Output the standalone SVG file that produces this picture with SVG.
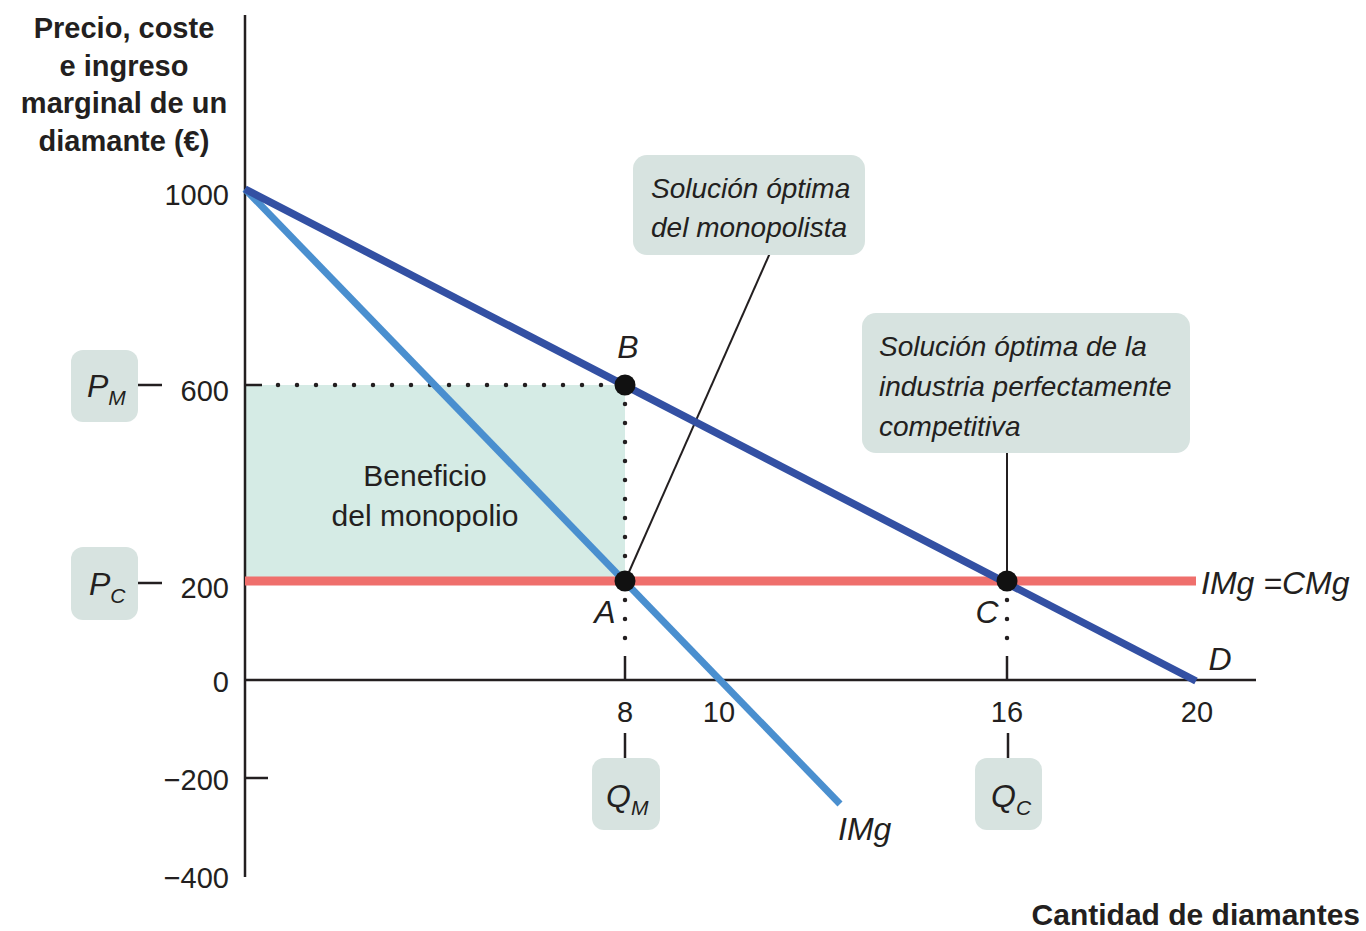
<svg xmlns="http://www.w3.org/2000/svg" width="1366" height="931" viewBox="0 0 1366 931">
<style>
.t{font-family:"Liberation Sans","DejaVu Sans",sans-serif;fill:#231f20}
.b{font-weight:bold}
.i{font-style:italic}
.n{font-size:29px}
.axis{stroke:#231f20;stroke-width:2.5;fill:none}
.dot{stroke:#231f20;stroke-width:4.5;stroke-linecap:round;stroke-dasharray:0 19;fill:none}
.box{fill:#d7e3e0}
.lead{stroke:#231f20;stroke-width:2;fill:none}
</style>
<rect width="1366" height="931" fill="#ffffff"/>
<g id="profit-area"><rect x="245" y="385" width="380" height="196" fill="#d5ebe5"/></g>
<g id="axes">
<line class="axis" x1="245" y1="15" x2="245" y2="877"/>
<line class="axis" x1="245" y1="680" x2="1256" y2="680"/>
<line class="axis" x1="245" y1="385" x2="262" y2="385"/>
<line class="axis" x1="245" y1="778" x2="268" y2="778"/>
<line class="axis" x1="625" y1="656" x2="625" y2="680"/>
<line class="axis" x1="1007" y1="656" x2="1007" y2="680"/>
<line class="axis" x1="625" y1="733" x2="625" y2="758"/>
<line class="axis" x1="1008" y1="733" x2="1008" y2="758"/>
<line class="axis" x1="138" y1="385" x2="162" y2="385"/>
<line class="axis" x1="138" y1="583" x2="162" y2="583"/>
</g>
<g id="connectors">
<path class="dot" d="M278 385 H615"/>
<path class="dot" d="M625 404 V575"/>
<path class="dot" d="M625 600 V645"/>
<path class="dot" d="M1007 600 V645"/>
<line class="lead" x1="770" y1="253" x2="625" y2="581"/>
<line class="lead" x1="1007" y1="453" x2="1007" y2="581"/>
</g>
<g id="mc-curve"><line x1="245" y1="581" x2="1196" y2="581" stroke="#ef6f6c" stroke-width="9"/></g>
<g id="mr-curve"><line x1="245" y1="189" x2="840" y2="804" stroke="#4a8fcf" stroke-width="7"/></g>
<g id="demand-curve"><line x1="245" y1="189" x2="1196" y2="681" stroke="#3350a3" stroke-width="7.5"/></g>
<g id="points">
<circle cx="625" cy="385" r="10.5" fill="#111"/>
<circle cx="625" cy="581" r="10.5" fill="#111"/>
<circle cx="1007" cy="581" r="10.5" fill="#111"/>
</g>
<g id="y-title">
<text class="t b" font-size="29" text-anchor="middle" x="124" y="38">Precio, coste</text>
<text class="t b" font-size="29" text-anchor="middle" x="124" y="76">e ingreso</text>
<text class="t b" font-size="29" text-anchor="middle" x="124" y="113">marginal de un</text>
<text class="t b" font-size="29" text-anchor="middle" x="124" y="151">diamante (€)</text>
</g>
<g id="y-ticks">
<text class="t n" x="229" y="205" text-anchor="end">1000</text>
<text class="t n" x="229" y="401" text-anchor="end">600</text>
<text class="t n" x="229" y="598" text-anchor="end">200</text>
<text class="t n" x="229" y="692" text-anchor="end">0</text>
<text class="t n" x="229" y="790" text-anchor="end">−200</text>
<text class="t n" x="229" y="888" text-anchor="end">−400</text>
</g>
<g id="x-ticks">
<text class="t n" x="625" y="722" text-anchor="middle">8</text>
<text class="t n" x="719" y="722" text-anchor="middle">10</text>
<text class="t n" x="1007" y="722" text-anchor="middle">16</text>
<text class="t n" x="1197" y="722" text-anchor="middle">20</text>
</g>
<g id="x-title"><text class="t b" font-size="30" x="1360" y="925" text-anchor="end">Cantidad de diamantes</text></g>
<g id="pm-label"><rect class="box" x="71" y="350" width="67" height="72" rx="12"/>
<text class="t i" font-size="32" x="87" y="397">P<tspan font-size="21" dy="8">M</tspan></text></g>
<g id="pc-label"><rect class="box" x="71" y="547" width="67" height="73" rx="12"/>
<text class="t i" font-size="32" x="89" y="595">P<tspan font-size="21" dy="8">C</tspan></text></g>
<g id="qm-label"><rect class="box" x="592" y="758" width="68" height="72" rx="12"/>
<text class="t i" font-size="32" x="606" y="807">Q<tspan font-size="21" dy="8">M</tspan></text></g>
<g id="qc-label"><rect class="box" x="975" y="758" width="67" height="72" rx="12"/>
<text class="t i" font-size="32" x="991" y="807">Q<tspan font-size="21" dy="8">C</tspan></text></g>
<g id="monopolist-callout"><rect class="box" x="633" y="155" width="232" height="100" rx="14"/>
<text class="t i" font-size="28" x="651" y="198">Solución óptima</text>
<text class="t i" font-size="28" x="651" y="237">del monopolista</text></g>
<g id="competitive-callout"><rect class="box" x="862" y="313" width="328" height="140" rx="14"/>
<text class="t i" font-size="28" x="879" y="356">Solución óptima de la</text>
<text class="t i" font-size="28" x="879" y="396">industria perfectamente</text>
<text class="t i" font-size="28" x="879" y="436">competitiva</text></g>
<g id="profit-label">
<text class="t" font-size="30" x="425" y="486" text-anchor="middle">Beneficio</text>
<text class="t" font-size="30" x="425" y="526" text-anchor="middle">del monopolio</text>
</g>
<g id="point-labels">
<text class="t i" font-size="32" x="628" y="358" text-anchor="middle">B</text>
<text class="t i" font-size="32" x="605" y="623" text-anchor="middle">A</text>
<text class="t i" font-size="32" x="987" y="623" text-anchor="middle">C</text>
<text class="t i" font-size="32" x="1220" y="670" text-anchor="middle">D</text>
<text class="t i" font-size="32" x="1201" y="594">IMg =CMg</text>
<text class="t i" font-size="32" x="838" y="840">IMg</text>
</g>
</svg>
